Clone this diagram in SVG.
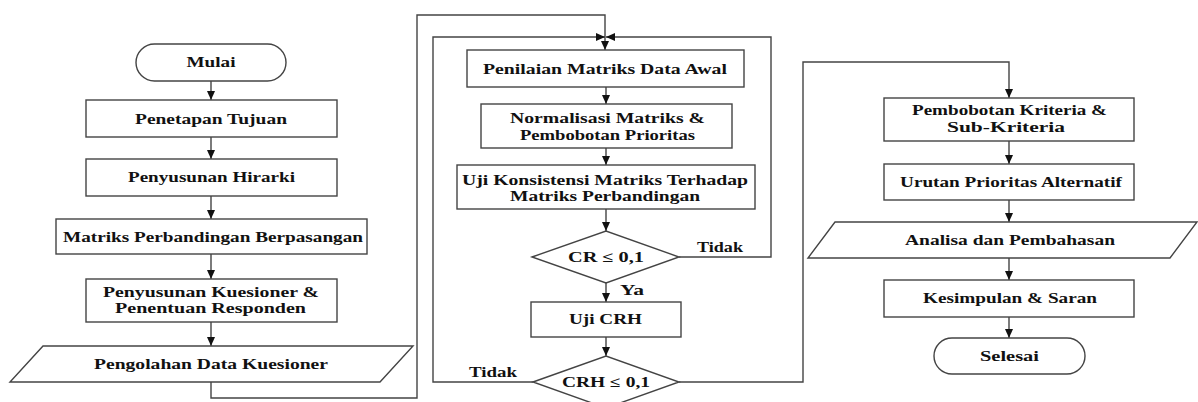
<svg xmlns="http://www.w3.org/2000/svg" width="1198" height="402" viewBox="0 0 1198 402">
<style>
.n{fill:#fff;stroke:#444;stroke-width:1.4}
.c{fill:none;stroke:#444;stroke-width:1.4}
.t{font-family:"Liberation Serif","Times New Roman",serif;font-weight:bold;font-size:14.5px;fill:#111;text-anchor:middle}
</style>
<defs>
<marker id="ah" markerUnits="userSpaceOnUse" markerWidth="9" markerHeight="8" viewBox="0 0 9 8" refX="9" refY="4" orient="auto">
<path d="M0,0 L9,4 L0,8 z" fill="#111"/>
</marker>
</defs>
<rect width="1198" height="402" fill="#fff"/>
<g id="connectors">
<path class="c" d="M211,81 V100" marker-end="url(#ah)"/>
<path class="c" d="M211,137 V159" marker-end="url(#ah)"/>
<path class="c" d="M211,196 V219" marker-end="url(#ah)"/>
<path class="c" d="M211,254 V279" marker-end="url(#ah)"/>
<path class="c" d="M211,322 V346" marker-end="url(#ah)"/>
<path class="c" d="M211,382 V398 H417 V15 H605 V50" marker-end="url(#ah)"/>
<path class="c" d="M606,87 V104" marker-end="url(#ah)"/>
<path class="c" d="M606,148 V165" marker-end="url(#ah)"/>
<path class="c" d="M606,209 V231" marker-end="url(#ah)"/>
<path class="c" d="M606,283 V302" marker-end="url(#ah)"/>
<path class="c" d="M606,337 V356" marker-end="url(#ah)"/>
<path class="c" d="M679,257 H771 V37 H606" marker-end="url(#ah)"/>
<path class="c" d="M533,382 H433 V37 H605" marker-end="url(#ah)"/>
<path class="c" d="M679,382 H803 V62 H1009 V98" marker-end="url(#ah)"/>
<path class="c" d="M1009,141 V164" marker-end="url(#ah)"/>
<path class="c" d="M1009,200 V222" marker-end="url(#ah)"/>
<path class="c" d="M1009,258 V280" marker-end="url(#ah)"/>
<path class="c" d="M1009,317 V338" marker-end="url(#ah)"/>
<text class="t" x="720" y="252" textLength="46" lengthAdjust="spacingAndGlyphs">Tidak</text>
<text class="t" x="632" y="295" textLength="24" lengthAdjust="spacingAndGlyphs">Ya</text>
<text class="t" x="493" y="377" textLength="48" lengthAdjust="spacingAndGlyphs">Tidak</text>
</g>
<g id="mulai">
<rect class="n" x="136" y="44" width="150" height="37" rx="18.5"/>
<text class="t" x="211" y="67" textLength="49" lengthAdjust="spacingAndGlyphs">Mulai</text>
</g>
<g id="penetapan">
<rect class="n" x="86" y="100" width="251" height="37"/>
<text class="t" x="211" y="124" textLength="152" lengthAdjust="spacingAndGlyphs">Penetapan Tujuan</text>
</g>
<g id="hirarki">
<rect class="n" x="86" y="159" width="251" height="37"/>
<text class="t" x="211.5" y="182" textLength="167" lengthAdjust="spacingAndGlyphs">Penyusunan Hirarki</text>
</g>
<g id="matriks">
<rect class="n" x="56" y="219" width="311" height="35"/>
<text class="t" x="213" y="242" textLength="300" lengthAdjust="spacingAndGlyphs">Matriks Perbandingan Berpasangan</text>
</g>
<g id="kuesioner">
<rect class="n" x="86" y="279" width="251" height="43"/>
<text class="t" x="211" y="297" textLength="216" lengthAdjust="spacingAndGlyphs">Penyusunan Kuesioner &amp;</text>
<text class="t" x="210.5" y="313" textLength="191" lengthAdjust="spacingAndGlyphs">Penentuan Responden</text>
</g>
<g id="pengolahan">
<polygon class="n" points="43,346 413,346 380,382 10,382"/>
<text class="t" x="211" y="369" textLength="234" lengthAdjust="spacingAndGlyphs">Pengolahan Data Kuesioner</text>
</g>
<g id="penilaian">
<rect class="n" x="467" y="50" width="277" height="37"/>
<text class="t" x="605" y="74" textLength="244" lengthAdjust="spacingAndGlyphs">Penilaian Matriks Data Awal</text>
</g>
<g id="normalisasi">
<rect class="n" x="481" y="104" width="251" height="44"/>
<text class="t" x="607.5" y="123" textLength="195" lengthAdjust="spacingAndGlyphs">Normalisasi Matriks &amp;</text>
<text class="t" x="607.5" y="140" textLength="175" lengthAdjust="spacingAndGlyphs">Pembobotan Prioritas</text>
</g>
<g id="uji-konsistensi">
<rect class="n" x="457" y="165" width="298" height="44"/>
<text class="t" x="605" y="185" textLength="286" lengthAdjust="spacingAndGlyphs">Uji Konsistensi Matriks Terhadap</text>
<text class="t" x="605" y="201" textLength="190" lengthAdjust="spacingAndGlyphs">Matriks Perbandingan</text>
</g>
<g id="cr">
<polygon class="n" points="532,257 606,231 679,257 606,283"/>
<text class="t" x="606" y="262" textLength="76" lengthAdjust="spacingAndGlyphs">CR ≤ 0,1</text>
</g>
<g id="uji-crh">
<rect class="n" x="531" y="302" width="150" height="35"/>
<text class="t" x="605.5" y="324" textLength="73" lengthAdjust="spacingAndGlyphs">Uji CRH</text>
</g>
<g id="crh">
<polygon class="n" points="533,382 606,356 679,382 606,408"/>
<text class="t" x="606" y="387" textLength="88" lengthAdjust="spacingAndGlyphs">CRH ≤ 0,1</text>
</g>
<g id="pembobotan">
<rect class="n" x="884" y="98" width="250" height="43"/>
<text class="t" x="1009.5" y="115" textLength="195" lengthAdjust="spacingAndGlyphs">Pembobotan Kriteria &amp;</text>
<text class="t" x="1006" y="132" textLength="118" lengthAdjust="spacingAndGlyphs">Sub-Kriteria</text>
</g>
<g id="urutan">
<rect class="n" x="884" y="164" width="250" height="36"/>
<text class="t" x="1011" y="187" textLength="222" lengthAdjust="spacingAndGlyphs">Urutan Prioritas Alternatif</text>
</g>
<g id="analisa">
<polygon class="n" points="835,222 1197,222 1170,258 808,258"/>
<text class="t" x="1010" y="245" textLength="210" lengthAdjust="spacingAndGlyphs">Analisa dan Pembahasan</text>
</g>
<g id="kesimpulan">
<rect class="n" x="884" y="280" width="250" height="37"/>
<text class="t" x="1010" y="303" textLength="174" lengthAdjust="spacingAndGlyphs">Kesimpulan &amp; Saran</text>
</g>
<g id="selesai">
<rect class="n" x="934" y="338" width="151" height="36" rx="18"/>
<text class="t" x="1009.5" y="361" textLength="59" lengthAdjust="spacingAndGlyphs">Selesai</text>
</g>
</svg>
